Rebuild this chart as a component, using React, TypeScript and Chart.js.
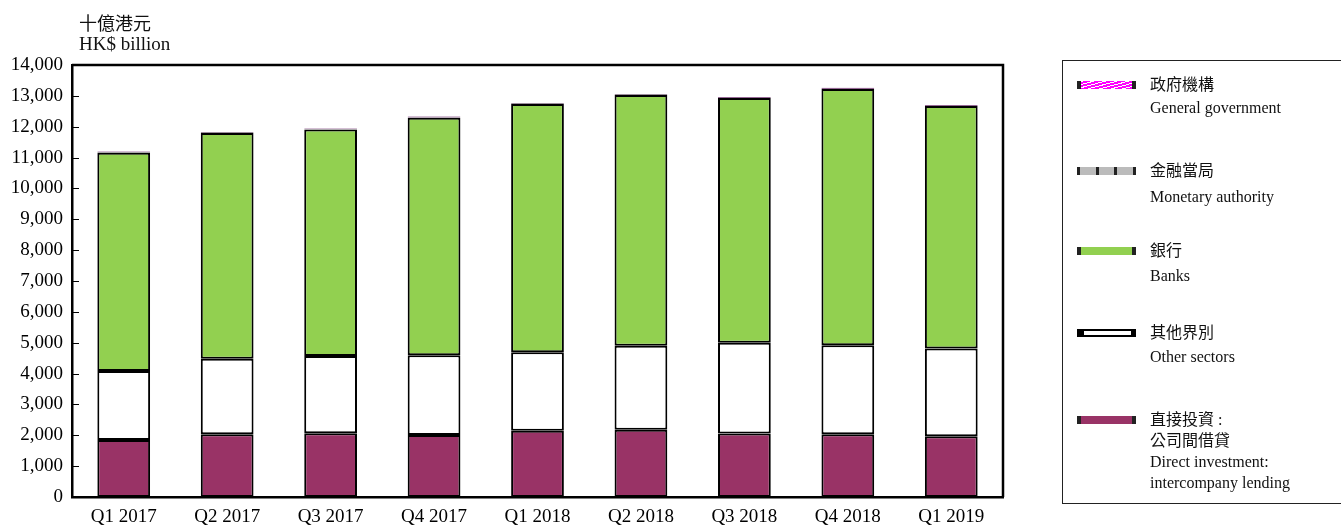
import React, { useEffect, useRef } from "react";
import { Chart, registerables } from "chart.js";
Chart.register(...registerables);

const categories = ["Q1 2017", "Q2 2017", "Q3 2017", "Q4 2017", "Q1 2018", "Q2 2018", "Q3 2018", "Q4 2018", "Q1 2019"];
const directInvestment = [1850, 2030, 2070, 2010, 2150, 2180, 2060, 2030, 1970];
const otherSectors = [2230, 2450, 2500, 2580, 2540, 2720, 2940, 2890, 2840];
const banks = [7080, 7320, 7340, 7700, 8050, 8130, 7930, 8300, 7860];
const monetaryAuthority = [10, 10, 10, 10, 10, 10, 10, 10, 10];
const generalGovernment = [30, 20, 20, 30, 20, 20, 20, 30, 20];
const yMin = 0;
const yMax = 14000;
const yStep = 1000;

const FONT = "'Liberation Serif', 'Times New Roman', 'Noto Sans CJK TC', serif";

const framePlugin = {
  id: "frame",
  afterDraw(chart: any) {
    const { ctx, chartArea } = chart;
    const y = chart.scales.y;
    ctx.save();
    ctx.strokeStyle = "#000";
    ctx.lineWidth = 2.5;
    ctx.beginPath();
    ctx.moveTo(chartArea.left, chartArea.top);
    ctx.lineTo(chartArea.right, chartArea.top);
    ctx.lineTo(chartArea.right, chartArea.bottom);
    ctx.stroke();
    ctx.lineWidth = 1.2;
    ctx.beginPath();
    y.ticks.forEach((t: any, i: number) => {
      const py = Math.round(y.getPixelForTick(i)) + 0.5;
      ctx.moveTo(chartArea.left, py);
      ctx.lineTo(chartArea.left + 7, py);
    });
    ctx.stroke();
    ctx.restore();
  },
};

function makeGovPattern(): CanvasPattern | string {
  const c = document.createElement("canvas");
  c.width = 8;
  c.height = 8;
  const g = c.getContext("2d");
  if (!g) return "#ff00ff";
  g.fillStyle = "#ff00ff";
  g.fillRect(0, 0, 8, 8);
  g.strokeStyle = "#ffffff";
  g.lineWidth = 1.5;
  g.beginPath();
  g.moveTo(0, 8);
  g.lineTo(8, 0);
  g.stroke();
  return g.createPattern(c, "repeat") || "#ff00ff";
}

export default function App() {
  const ref = useRef<HTMLCanvasElement>(null);

  useEffect(() => {
    if (!ref.current) return;
    const common = {
      borderColor: "#000",
      borderWidth: 2,
      borderSkipped: false,
      barPercentage: 0.51,
      categoryPercentage: 1,
    };
    const chart = new Chart(ref.current, {
      type: "bar",
      data: {
        labels: categories,
        datasets: [
          { label: "Direct investment: intercompany lending", data: directInvestment, backgroundColor: "#993366", ...common },
          { label: "Other sectors", data: otherSectors, backgroundColor: "#ffffff", ...common },
          { label: "Banks", data: banks, backgroundColor: "#92d050", ...common },
          { label: "Monetary authority", data: monetaryAuthority, backgroundColor: "#bbbbbb", ...common },
          { label: "General government", data: generalGovernment, backgroundColor: makeGovPattern(), ...common, borderColor: "#550055" },
        ],
      } as any,
      options: {
        responsive: false,
        animation: false,
        devicePixelRatio: 1,
        layout: { padding: { left: 0, right: 338, top: 65, bottom: 0 } },
        plugins: { legend: { display: false }, tooltip: { enabled: false }, title: { display: false } },
        scales: {
          x: {
            stacked: true,
            offset: true,
            grid: { display: false, drawTicks: false },
            border: { display: true, color: "#000", width: 2.5 },
            ticks: { color: "#000", font: { family: FONT, size: 19 }, padding: 9, maxRotation: 0, autoSkip: false },
            afterFit: (s: any) => { s.height = 28; },
          },
          y: {
            stacked: true,
            min: yMin,
            max: yMax,
            grid: { display: false, drawTicks: false },
            border: { display: true, color: "#000", width: 2.5 },
            ticks: {
              stepSize: yStep,
              color: "#000",
              font: { family: FONT, size: 19 },
              padding: 9,
              callback: (v: any) => Number(v).toLocaleString("en-US"),
            },
            afterFit: (s: any) => { s.width = 72; },
          },
        },
      } as any,
      plugins: [framePlugin],
    });
    return () => chart.destroy();
  }, []);

  const textLine = (text: string, cy: number, key: string) => (
    <div key={key} style={{ position: "absolute", left: 1150, top: cy - 10, lineHeight: "20px", fontSize: 16, fontFamily: FONT, color: "#111", whiteSpace: "nowrap" }}>
      {text}
    </div>
  );

  const swatchBase: React.CSSProperties = { position: "absolute", left: 1077, width: 59, height: 8, boxSizing: "border-box" };

  return (
    <div style={{ position: "absolute", left: 0, top: 0, width: 1341, height: 525, overflow: "hidden", background: "#fff" }}>
      <canvas ref={ref} width={1341} height={525} style={{ position: "absolute", left: 0, top: 0, width: 1341, height: 525 }} />
      <div style={{ position: "absolute", left: 79, top: 14, lineHeight: "20px", fontSize: 18, fontFamily: FONT, color: "#111" }}>
        <div>十億港元</div>
        <div style={{ fontSize: 19 }}>HK$ billion</div>
      </div>
      <div style={{ position: "absolute", left: 1062, top: 60, width: 300, height: 444, border: "1.5px solid #222", boxSizing: "border-box" }} />
      <div style={{ ...swatchBase, top: 81, borderLeft: "4px solid #222", borderRight: "4px solid #222", background: "repeating-linear-gradient(-15deg, #ff00ff 0px, #ff00ff 2px, #ffffff 2px, #ffffff 3px)" }} />
      <div style={{ ...swatchBase, top: 167, background: "linear-gradient(90deg, #222 0px, #222 3px, #bbb 3px, #bbb 19px, #222 19px, #222 22px, #bbb 22px, #bbb 37px, #222 37px, #222 40px, #bbb 40px, #bbb 56px, #222 56px, #222 59px)" }} />
      <div style={{ ...swatchBase, top: 247, borderLeft: "4px solid #222", borderRight: "4px solid #222", background: "#92d050" }} />
      <div style={{ ...swatchBase, top: 329, borderLeft: "7px solid #000", borderRight: "5px solid #000", borderTop: "2px solid #000", borderBottom: "2px solid #000", background: "#fff" }} />
      <div style={{ ...swatchBase, top: 416, borderLeft: "4px solid #222", borderRight: "4px solid #222", background: "#993366" }} />
      {textLine("政府機構", 85, "g1")}
      {textLine("General government", 108, "g2")}
      {textLine("金融當局", 171, "m1")}
      {textLine("Monetary authority", 197, "m2")}
      {textLine("銀行", 251, "b1")}
      {textLine("Banks", 276, "b2")}
      {textLine("其他界別", 333, "o1")}
      {textLine("Other sectors", 357, "o2")}
      {textLine("直接投資 :", 420, "d1")}
      {textLine("公司間借貸", 441, "d2")}
      {textLine("Direct investment:", 462, "d3")}
      {textLine("intercompany lending", 483, "d4")}
    </div>
  );
}
